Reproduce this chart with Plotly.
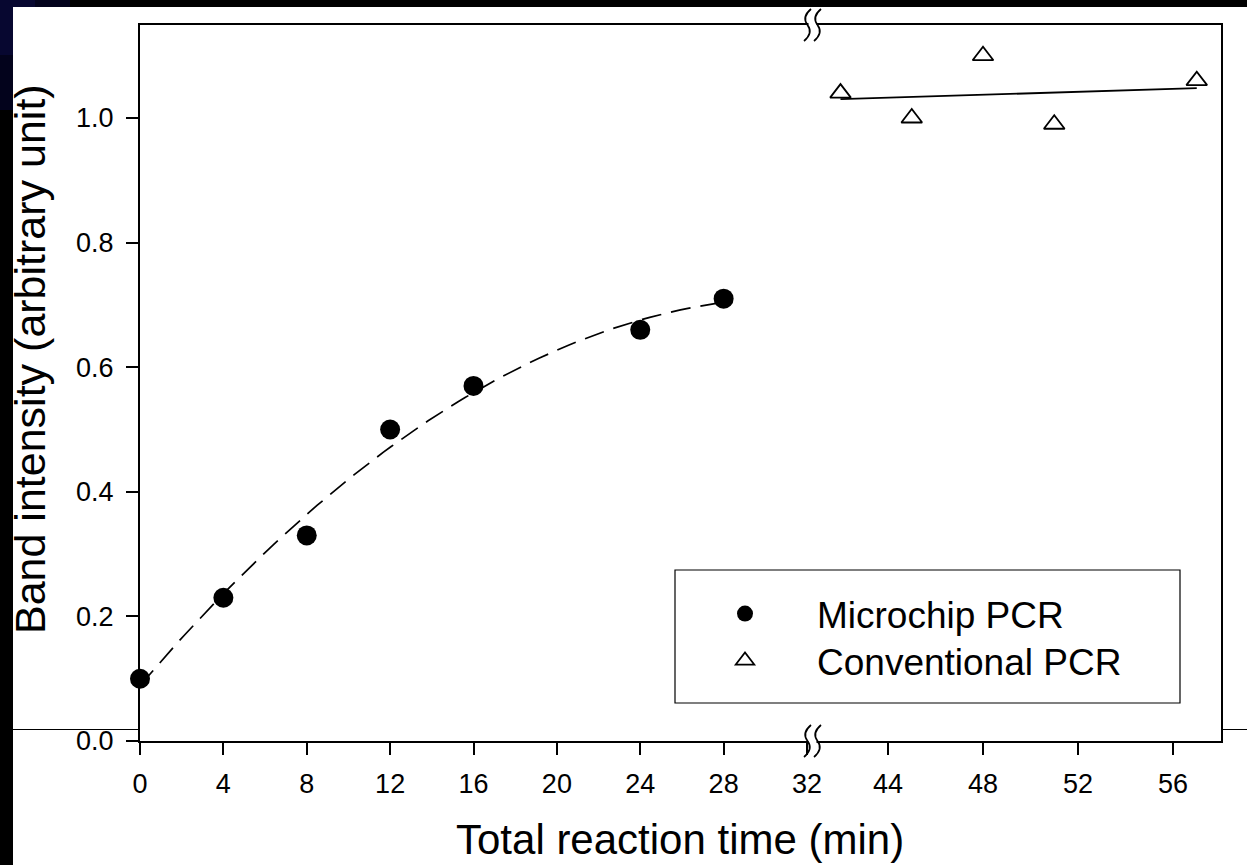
import numpy as np
import plotly.graph_objects as go

# ---------------- data ----------------
micro_time = [0, 4, 8, 12, 16, 24, 28]
micro_intensity = [0.10, 0.23, 0.33, 0.50, 0.57, 0.66, 0.71]
conv_time = [42, 45, 48, 51, 57]
conv_intensity = [1.04, 1.00, 1.10, 0.99, 1.06]
x1_ticks = [0, 4, 8, 12, 16, 20, 24, 28, 32]
x2_ticks = [44, 48, 52, 56]
y_ticks = [0.0, 0.2, 0.4, 0.6, 0.8, 1.0]

# regression lines (as in the original figure)
c2 = np.polyfit(micro_time, micro_intensity, 2)
fit1_x = np.linspace(min(micro_time), max(micro_time), 80)
fit1_y = np.polyval(c2, fit1_x)
c1 = np.polyfit(conv_time, conv_intensity, 1)
fit2_x = np.array([min(conv_time), max(conv_time)])
fit2_y = np.polyval(c1, fit2_x)

# ---------------- geometry helpers ----------------
W, H = 1247, 865
L, R, T, B = 140, 1221, 25, 741
PW, PH = R - L, B - T


def px(x):
    return (x - L) / PW


def py(y):
    return (B - y) / PH


BREAK = 812
FONT = "Liberation Sans, Arial, sans-serif"

fig = go.Figure()
fig.add_trace(go.Scatter(x=fit1_x, y=fit1_y, mode="lines", xaxis="x", yaxis="y",
                         line=dict(color="black", width=1.7, dash="20px,10px"),
                         showlegend=False, hoverinfo="skip"))
fig.add_trace(go.Scatter(x=micro_time, y=micro_intensity, mode="markers", xaxis="x", yaxis="y",
                         name="Microchip PCR", cliponaxis=False,
                         marker=dict(symbol="circle", size=20, color="black"),
                         legend="legend"))
fig.add_trace(go.Scatter(x=fit2_x, y=fit2_y, mode="lines", xaxis="x2", yaxis="y2",
                         line=dict(color="black", width=1.8),
                         showlegend=False, hoverinfo="skip"))
fig.add_trace(go.Scatter(x=conv_time, y=conv_intensity, mode="markers", xaxis="x2", yaxis="y2",
                         name="Conventional PCR", cliponaxis=False,
                         marker=dict(symbol="triangle-up-open", size=18, color="black",
                                     line=dict(width=1.8, color="black")),
                         legend="legend2"))

axis_common = dict(showline=True, linecolor="black", linewidth=2, ticks="outside",
                   ticklen=12, tickwidth=2, tickcolor="black", showgrid=False,
                   zeroline=False, tickfont=dict(family=FONT, size=27, color="black"))

ppu1 = (807 - 140) / 32.0
ppu2 = (1173 - 888) / 12.0
x1_end = (BREAK - L) / ppu1
x2_start = 44 - (888 - BREAK) / ppu2
x2_end = 44 + (R - 888) / ppu2
y_top = PH / 623.0

fig.update_layout(
    width=W, height=H,
    margin=dict(l=L, r=W - R, t=T, b=H - B, pad=0),
    paper_bgcolor="white", plot_bgcolor="white",
    xaxis=dict(domain=[0, px(BREAK)], range=[0, x1_end], tickvals=x1_ticks,
               mirror=True, anchor="y", ticklabelstandoff=6, **axis_common),
    xaxis2=dict(domain=[px(BREAK), 1], range=[x2_start, x2_end], tickvals=x2_ticks,
                mirror=True, anchor="y2", ticklabelstandoff=6, **axis_common),
    yaxis=dict(range=[0, y_top], tickvals=y_ticks, tickformat=".1f", anchor="x",
               ticklabelstandoff=7, **axis_common),
    yaxis2=dict(range=[0, y_top], matches="y", anchor="x2", side="right",
                showline=True, linecolor="black", linewidth=2, showticklabels=False,
                ticks="", showgrid=False, zeroline=False),
    legend=dict(x=px(673), y=py(614), xanchor="left", yanchor="middle",
                bgcolor="rgba(0,0,0,0)", borderwidth=0, itemwidth=134,
                font=dict(family=FONT, size=37, color="black")),
    legend2=dict(x=px(673), y=py(661), xanchor="left", yanchor="middle",
                 bgcolor="rgba(0,0,0,0)", borderwidth=0, itemwidth=134,
                 font=dict(family=FONT, size=37, color="black")),
    showlegend=True,
)

shapes = []
# legend frame
shapes.append(dict(type="rect", xref="paper", yref="paper", x0=px(675), x1=px(1180),
                   y0=py(703), y1=py(570), line=dict(color="black", width=1.2), layer="below"))
# axis break marks
for cy in (T, B):
    shapes.append(dict(type="rect", xref="paper", yref="paper", x0=px(808.5), x1=px(816.5),
                       y0=py(cy + 16), y1=py(cy - 8), fillcolor="white", line=dict(width=0),
                       layer="above"))
    for cx in (807.5, 817.5):
        path = (f"M {px(cx + 3.5)},{py(cy - 16)} Q {px(cx - 6)},{py(cy - 8)} {px(cx)},{py(cy)} "
                f"Q {px(cx + 6)},{py(cy + 8)} {px(cx - 3.5)},{py(cy + 16)}")
        shapes.append(dict(type="path", xref="paper", yref="paper", path=path,
                           line=dict(color="black", width=1.7), layer="above"))
# stray slide line outside the chart
shapes.append(dict(type="line", xref="paper", yref="paper", x0=px(13), x1=px(L),
                   y0=py(729.5), y1=py(729.5), line=dict(color="black", width=1)))
shapes.append(dict(type="line", xref="paper", yref="paper", x0=px(R), x1=px(W + 5),
                   y0=py(729.5), y1=py(729.5), line=dict(color="black", width=1)))
# slide borders
shapes.append(dict(type="rect", xref="paper", yref="paper", x0=px(-5), x1=px(W + 5),
                   y0=py(7), y1=py(-5), fillcolor="black", line=dict(width=0), layer="above"))
shapes.append(dict(type="rect", xref="paper", yref="paper", x0=px(-5), x1=px(13),
                   y0=py(H + 5), y1=py(-5), fillcolor="black", line=dict(width=0), layer="above"))
for (x1b, y1b, col) in [(70, 7, "#03031c"), (13, 110, "#03031c"), (35, 7, "#070730"), (13, 55, "#070730")]:
    shapes.append(dict(type="rect", xref="paper", yref="paper", x0=px(-5), x1=px(x1b),
                       y0=py(y1b), y1=py(-5), fillcolor=col, line=dict(width=0), layer="above"))
fig.update_layout(shapes=shapes)

fig.add_annotation(text="Total reaction time (min)", xref="paper", yref="paper",
                   x=px(680), y=py(840), xanchor="center", yanchor="middle", showarrow=False,
                   font=dict(family=FONT, size=42, color="black"))
fig.add_annotation(text="Band intensity (arbitrary unit)", xref="paper", yref="paper",
                   x=px(30), y=py(359), xanchor="center", yanchor="middle", showarrow=False,
                   textangle=-90, font=dict(family=FONT, size=43, color="black"))

fig.write_html("out.html")
